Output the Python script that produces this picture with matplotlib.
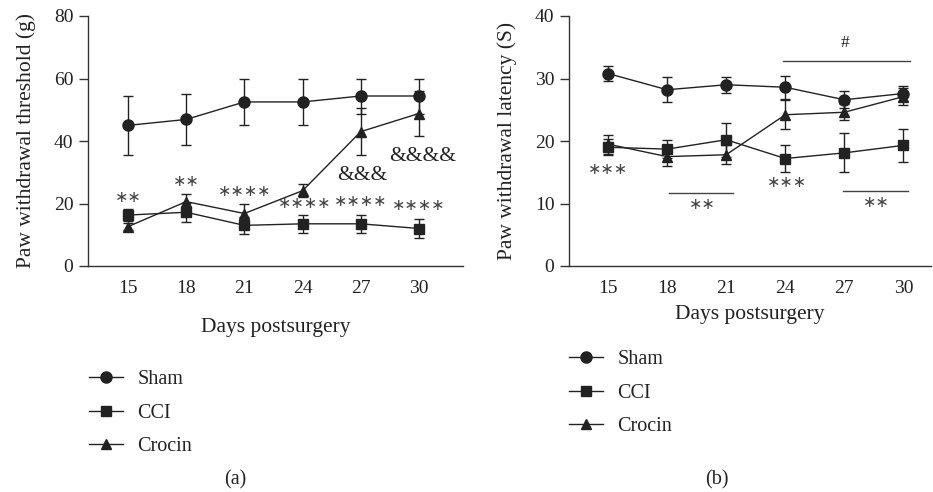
import numpy as np
import matplotlib
matplotlib.use('Agg')
import matplotlib.pyplot as plt

plt.rcParams['font.family'] = ['Liberation Serif', 'DejaVu Serif']
plt.rcParams['font.size'] = 14

# Data
days = [15, 18, 21, 24, 27, 30]
groups = ['Sham', 'CCI', 'Crocin']
markers = ['o', 's', '^']

# (a) paw withdrawal threshold (g)
pwt_sham = [45.0, 46.9, 52.5, 52.5, 54.4, 54.4]
pwt_sham_err = [9.5, 8.3, 7.5, 7.5, 5.6, 5.6]
pwt_cci = [16.3, 17.2, 13.0, 13.5, 13.5, 12.0]
pwt_cci_err = [2.0, 3.0, 2.7, 2.8, 2.8, 3.0]
pwt_crocin = [12.6, 20.6, 16.8, 24.1, 43.0, 48.8]
pwt_crocin_err = [1.2, 2.4, 3.0, 2.0, 7.6, 7.2]

# (b) paw withdrawal latency (S)
pwl_sham = [30.8, 28.2, 29.0, 28.6, 26.6, 27.6]
pwl_sham_err = [1.2, 2.0, 1.3, 1.8, 1.4, 1.2]
pwl_cci = [19.0, 18.7, 20.2, 17.2, 18.1, 19.3]
pwl_cci_err = [1.3, 1.4, 2.7, 2.1, 3.1, 2.7]
pwl_crocin = [19.5, 17.5, 17.8, 24.2, 24.6, 27.1]
pwl_crocin_err = [1.5, 1.5, 1.5, 2.3, 1.3, 1.4]

ink = '#222222'
axis_ink = '#333333'

fig = plt.figure(figsize=(9.33, 4.92), dpi=100)
axa = fig.add_axes([88/933, 1-266/492, 375/933, 250/492])
axb = fig.add_axes([569/933, 1-266/492, 362/933, 250/492])


def draw(ax, series, errs):
    handles = []
    for y, e, m, name in zip(series, errs, markers, groups):
        ms = {'o': 8, 's': 7.2, '^': 7.5}[m]
        h = ax.errorbar(days, y, yerr=e, fmt='-' + m, color=ink, ms=ms,
                        lw=1.0, elinewidth=1.0, capsize=3.5, capthick=1.0,
                        label=name)
        handles.append(h.lines[0])
    for side in ['top', 'right']:
        ax.spines[side].set_visible(False)
    for side in ['left', 'bottom']:
        ax.spines[side].set_color(axis_ink)
        ax.spines[side].set_linewidth(1.0)
    ax.set_xticks(days)
    ax.tick_params(axis='x', length=0, pad=10, colors=ink)
    ax.tick_params(axis='y', length=6.5, width=1.0, colors=axis_ink,
                   labelcolor=ink, pad=4)
    return handles


star_kw = dict(ha='center', va='center', color='#444444', fontsize=11.5,
               family='DejaVu Sans')

# panel (a)
ha = draw(axa, [pwt_sham, pwt_cci, pwt_crocin],
          [pwt_sham_err, pwt_cci_err, pwt_crocin_err])
axa.set_xlim(12.94, 32.27)
axa.set_ylim(0, 80)
axa.set_yticks([0, 20, 40, 60, 80])
axa.set_ylabel('Paw withdrawal threshold (g)', color=ink, fontsize=15.5,
               labelpad=13)
axa.set_xlabel('Days postsurgery', color=ink, fontsize=15.5, labelpad=15)

axa.text(15, 22, '∗∗', **star_kw)
axa.text(18, 27, '∗∗', **star_kw)
axa.text(21, 24, '∗∗∗∗', **star_kw)
axa.text(24.1, 20, '∗∗∗∗', **star_kw)
axa.text(27, 20.5, '∗∗∗∗', **star_kw)
axa.text(30, 19.3, '∗∗∗∗', **star_kw)
axa.text(27.1, 29, '&&&', ha='center', va='center', color=ink, fontsize=15.5)
axa.text(30.2, 35, '&&&&', ha='center', va='center', color=ink, fontsize=15.5)

# panel (b)
hb = draw(axb, [pwl_sham, pwl_cci, pwl_crocin],
          [pwl_sham_err, pwl_cci_err, pwl_crocin_err])
axb.set_xlim(13.02, 31.4)
axb.set_ylim(0, 40)
axb.set_yticks([0, 10, 20, 30, 40])
axb.set_ylabel('Paw withdrawal latency (S)', color=ink, fontsize=15.5,
               labelpad=13)
axb.set_xlabel('Days postsurgery', color=ink, fontsize=15.5, labelpad=6)

axb.plot([23.9, 30.35], [32.8, 32.8], color='#444444', lw=1.0)
axb.text(27.05, 35.7, '#', ha='center', va='center', color=ink, fontsize=12.5)
axb.plot([18.1, 21.35], [11.7, 11.7], color='#444444', lw=1.0)
axb.text(19.8, 9.8, '∗∗', **star_kw)
axb.plot([26.95, 30.25], [12.0, 12.0], color='#444444', lw=1.0)
axb.text(28.6, 10.2, '∗∗', **star_kw)
axb.text(15, 15.4, '∗∗∗', **star_kw)
axb.text(24.1, 13.3, '∗∗∗', **star_kw)

leg_kw = dict(loc='upper left', frameon=False, handlelength=1.7,
              handletextpad=0.7, labelspacing=0.72, borderpad=0,
              borderaxespad=0, fontsize=14.5)
la = fig.legend(ha, groups, bbox_to_anchor=(89/933, 1-370/492), **leg_kw)
lb = fig.legend(hb, groups, bbox_to_anchor=(569/933, 1-350/492), **leg_kw)
for lg in (la, lb):
    for t in lg.get_texts():
        t.set_color(ink)

fig.text(235/933, 1-480/492, '(a)', ha='center', va='center', color=ink,
         fontsize=14.5)
fig.text(717/933, 1-480/492, '(b)', ha='center', va='center', color=ink,
         fontsize=14.5)

fig.savefig('out.png', dpi=100)
